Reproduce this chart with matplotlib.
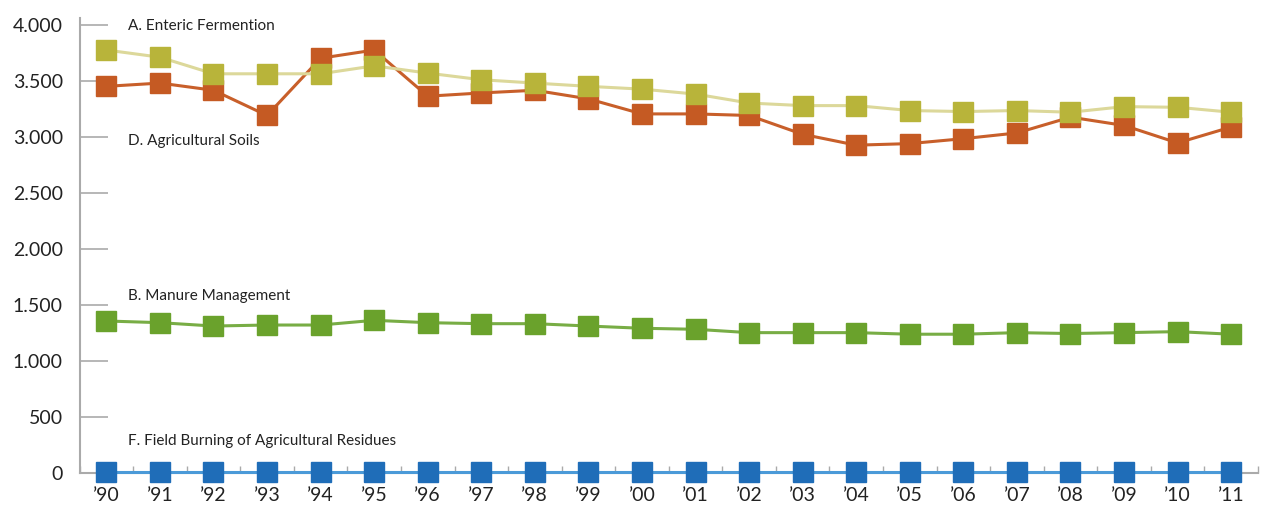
import matplotlib.pyplot as plt
import numpy as np

plt.rcParams['font.family'] = ['Lato', 'DejaVu Sans']

years = ["\u201990", "\u201991", "\u201992", "\u201993", "\u201994", "\u201995", "\u201996",
         "\u201997", "\u201998", "\u201999", "\u201900", "\u201901", "\u201902", "\u201903",
         "\u201904", "\u201905", "\u201906", "\u201907", "\u201908", "\u201909", "\u201910",
         "\u201911"]

enteric = [3775, 3711, 3563, 3563, 3563, 3634, 3569, 3510, 3480, 3451, 3426,
           3382, 3302, 3279, 3279, 3235, 3226, 3235, 3220, 3270, 3264, 3220]
soils = [3451, 3480, 3416, 3191, 3702, 3775, 3363, 3392, 3416, 3339, 3205,
         3205, 3191, 3023, 2926, 2940, 2984, 3035, 3176, 3102, 2946, 3088]
manure = [1357, 1342, 1312, 1321, 1321, 1363, 1342, 1333, 1333, 1312, 1292,
          1283, 1253, 1253, 1253, 1239, 1239, 1253, 1245, 1253, 1262, 1239]
burning = [5] * 22

yticks = [0, 500, 1000, 1500, 2000, 2500, 3000, 3500, 4000]
ytick_labels = ["0", "500", "1.000", "1.500", "2.000", "2.500", "3.000", "3.500", "4.000"]

x = np.arange(len(years))

fig = plt.figure(figsize=(12.63, 5.17), dpi=100)
ax = fig.add_axes([0.063, 0.085, 0.933, 0.88])

ms = 14
ax.plot(x, burning, color='#4b9ad8', lw=2.2, marker='s', ms=ms, mfc='#1f6db8', mec='#1f6db8', clip_on=False, zorder=3)
ax.plot(x, manure, color='#78ad45', lw=2.2, marker='s', ms=ms, mfc='#6aa22c', mec='#6aa22c', zorder=3)
ax.plot(x, soils, color='#c85f2a', lw=2.2, marker='s', ms=ms, mfc='#c55a23', mec='#c55a23', zorder=3)
ax.plot(x, enteric, color='#dcd89a', lw=2.2, marker='s', ms=ms, mfc='#b8b43a', mec='#b8b43a', zorder=4)

label_kw = dict(fontsize=11, color='#222222', ha='left', va='center')
ax.text(0.4, 3990, "A. Enteric Fermention", **label_kw)
ax.text(0.4, 2965, "D. Agricultural Soils", **label_kw)
ax.text(0.4, 1580, "B. Manure Management", **label_kw)
ax.text(0.4, 290, "F. Field Burning of Agricultural Residues", **label_kw)

ax.set_xlim(-0.5, len(years) - 0.5)
ax.set_ylim(0, 4060)

ax.set_yticks(yticks)
ax.set_yticklabels(ytick_labels, fontsize=14, color='#222222')
ax.set_xticks(x)
ax.set_xticklabels(years, fontsize=14, color='#222222')
ax.set_xticks(np.arange(-0.5, len(years), 1), minor=True)

ax.tick_params(axis='y', direction='in', length=20, width=1.2, color='#aaaaaa', pad=12)
ax.tick_params(axis='x', which='major', length=0, pad=10)
ax.tick_params(axis='x', which='minor', direction='in', length=5, width=1, color='#aaaaaa')

for side in ['top', 'right']:
    ax.spines[side].set_visible(False)
ax.spines['left'].set_color('#aaaaaa')
ax.spines['left'].set_linewidth(1.5)
ax.spines['bottom'].set_color('#aaaaaa')
ax.spines['bottom'].set_linewidth(1.5)

fig.savefig("out.png", dpi=100)
